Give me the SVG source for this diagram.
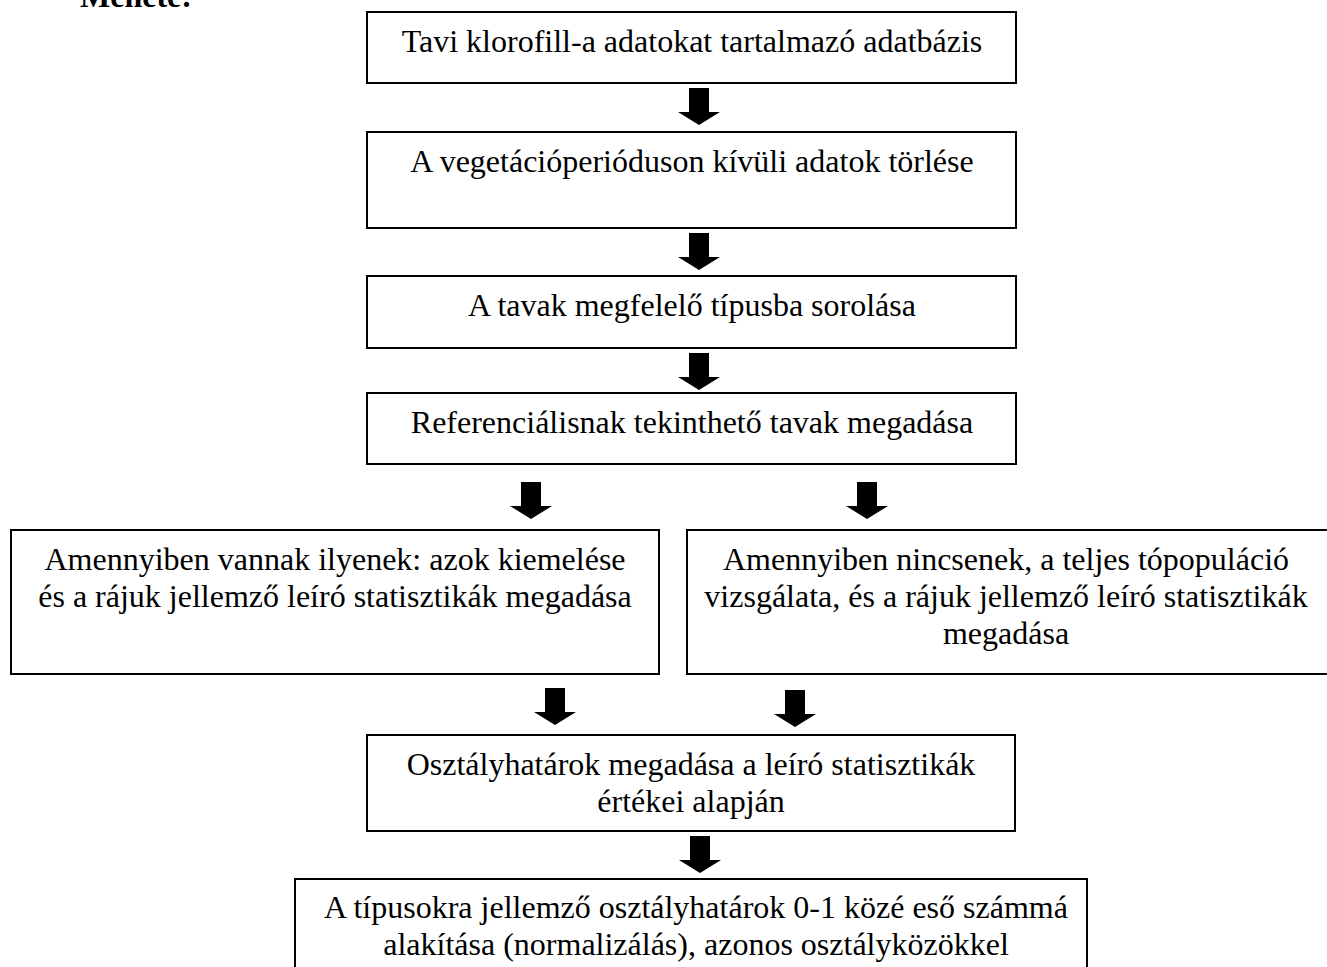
<svg xmlns="http://www.w3.org/2000/svg" xmlns:xlink="http://www.w3.org/1999/xlink" width="1327" height="967" viewBox="0 0 1327 967">
<style>
.box{fill:#fff;stroke:#000;stroke-width:2}
.t{font-family:"Liberation Serif","Times New Roman",serif;font-size:32px;fill:#000;text-anchor:middle}
.h{font-family:"Liberation Serif","Times New Roman",serif;font-size:32px;font-weight:bold;fill:#000}
.arr{fill:#000}
</style>
<defs>
<path id="arrow" class="arr" d="M-10,0 H10 V24 H21 L0,37 L-21,24 H-10 Z"/>
</defs>
<rect width="1327" height="967" fill="#fff"/>
<text class="h" x="80" y="7">Menete:</text>
<g id="n1"><rect class="box" x="367" y="12" width="649" height="71"/><text class="t" x="692" y="52">Tavi klorofill-a adatokat tartalmazó adatbázis</text></g>
<g id="n2"><rect class="box" x="367" y="132" width="649" height="96"/><text class="t" x="692" y="172">A vegetációperióduson kívüli adatok törlése</text></g>
<g id="n3"><rect class="box" x="367" y="276" width="649" height="72"/><text class="t" x="692" y="316">A tavak megfelelő típusba sorolása</text></g>
<g id="n4"><rect class="box" x="367" y="393" width="649" height="71"/><text class="t" x="692" y="433">Referenciálisnak tekinthető tavak megadása</text></g>
<g id="n5"><rect class="box" x="11" y="530" width="648" height="144"/><text class="t" x="335" y="570">Amennyiben vannak ilyenek: azok kiemelése</text><text class="t" x="335" y="607">és a rájuk jellemző leíró statisztikák megadása</text></g>
<g id="n6"><rect class="box" x="687" y="530" width="645" height="144"/><text class="t" x="1006" y="570">Amennyiben nincsenek, a teljes tópopuláció</text><text class="t" x="1006" y="607">vizsgálata, és a rájuk jellemző leíró statisztikák</text><text class="t" x="1006" y="644">megadása</text></g>
<g id="n7"><rect class="box" x="367" y="735" width="648" height="96"/><text class="t" x="691" y="775">Osztályhatárok megadása a leíró statisztikák</text><text class="t" x="691" y="812">értékei alapján</text></g>
<g id="n8"><rect class="box" x="295" y="879" width="792" height="100"/><text class="t" x="696" y="918">A típusokra jellemző osztályhatárok 0-1 közé eső számmá</text><text class="t" x="696" y="955">alakítása (normalizálás), azonos osztályközökkel</text></g>
<g id="connectors">
<use xlink:href="#arrow" x="699" y="88"/>
<use xlink:href="#arrow" x="699" y="233"/>
<use xlink:href="#arrow" x="699" y="353"/>
<use xlink:href="#arrow" x="531" y="482"/>
<use xlink:href="#arrow" x="867" y="482"/>
<use xlink:href="#arrow" x="555" y="688"/>
<use xlink:href="#arrow" x="795" y="690"/>
<use xlink:href="#arrow" x="700" y="836"/>
</g>
</svg>
